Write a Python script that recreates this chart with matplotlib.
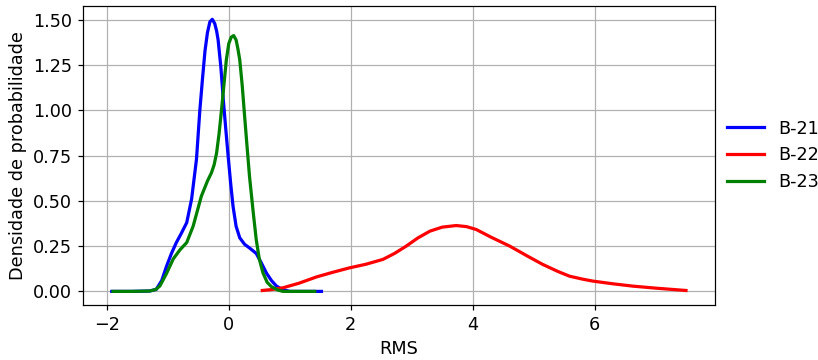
import matplotlib
matplotlib.use("Agg")
import matplotlib.pyplot as plt

# density curves, (RMS, density) pairs
b21_x = [-1.92, -1.60, -1.30, -1.19, -1.10, -1.02, -0.94, -0.86, -0.78, -0.69, -0.61,
         -0.53, -0.475, -0.43, -0.39, -0.35, -0.31, -0.27, -0.23, -0.20, -0.175, -0.13,
         -0.09, -0.05, -0.01, 0.03, 0.07, 0.12, 0.18, 0.26, 0.34, 0.45, 0.53, 0.62, 0.70,
         0.78, 0.88, 1.00, 1.25, 1.52]
b21_y = [0.0, 0.0, 0.002, 0.011, 0.06, 0.14, 0.21, 0.27, 0.32, 0.38, 0.51,
         0.73, 1.00, 1.18, 1.33, 1.43, 1.49, 1.504, 1.48, 1.44, 1.39, 1.24,
         1.06, 0.90, 0.746, 0.60, 0.47, 0.36, 0.296, 0.26, 0.24, 0.21, 0.16, 0.10, 0.06,
         0.03, 0.01, 0.0, 0.0, 0.0]

b22_x = [0.55, 0.70, 0.89, 1.15, 1.44, 1.70, 1.98, 2.25, 2.53, 2.72, 2.91, 3.10, 3.30,
         3.50, 3.73, 3.90, 4.06, 4.30, 4.61, 4.90, 5.15, 5.40, 5.59, 5.80, 5.97, 6.30,
         6.63, 7.00, 7.50]
b22_y = [0.005, 0.01, 0.02, 0.045, 0.08, 0.105, 0.13, 0.15, 0.177, 0.21, 0.25, 0.295, 0.333,
         0.355, 0.364, 0.358, 0.342, 0.30, 0.25, 0.195, 0.149, 0.11, 0.084, 0.068, 0.057, 0.042,
         0.029, 0.018, 0.005]

b23_x = [-1.90, -1.60, -1.30, -1.20, -1.13, -1.02, -0.91, -0.80, -0.69, -0.585, -0.45,
         -0.35, -0.285, -0.24, -0.20, -0.16, -0.12, -0.08, -0.04, 0.0, 0.04, 0.08, 0.12,
         0.15, 0.18, 0.22, 0.26, 0.30, 0.34, 0.40, 0.45, 0.50, 0.56, 0.63, 0.70, 0.80, 0.89,
         1.10, 1.41]
b23_y = [0.0, 0.0, 0.002, 0.01, 0.03, 0.10, 0.18, 0.23, 0.27, 0.36, 0.526,
         0.61, 0.655, 0.70, 0.765, 0.87, 1.00, 1.14, 1.28, 1.37, 1.405, 1.414, 1.39,
         1.34, 1.28, 1.14, 0.967, 0.80, 0.636, 0.44, 0.287, 0.18, 0.103, 0.05, 0.026, 0.008, 0.0,
         0.0, 0.0]

DPI = 110
plt.rcParams["font.size"] = 11.5
fig = plt.figure(figsize=(818 / DPI, 360 / DPI), dpi=DPI)
ax = fig.add_axes([0.1015, 0.1528, 0.7722, 0.8314])

ax.plot(b21_x, b21_y, color="blue", lw=2.1, label="B-21", solid_joinstyle="round")
ax.plot(b22_x, b22_y, color="red", lw=2.1, label="B-22", solid_joinstyle="round")
ax.plot(b23_x, b23_y, color="green", lw=2.1, label="B-23", solid_joinstyle="round")

ax.set_xticks([-2, 0, 2, 4, 6])
ax.set_yticks([0, 0.25, 0.5, 0.75, 1.0, 1.25, 1.5])
ax.set_xlabel("RMS")
ax.set_ylabel("Densidade de probabilidade")
ax.grid(True)
ax.legend(loc="center left", bbox_to_anchor=(1.0, 0.5), frameon=False,
          borderaxespad=0.3, handlelength=2.1, handletextpad=0.8)

fig.savefig("out.png", dpi=DPI)
